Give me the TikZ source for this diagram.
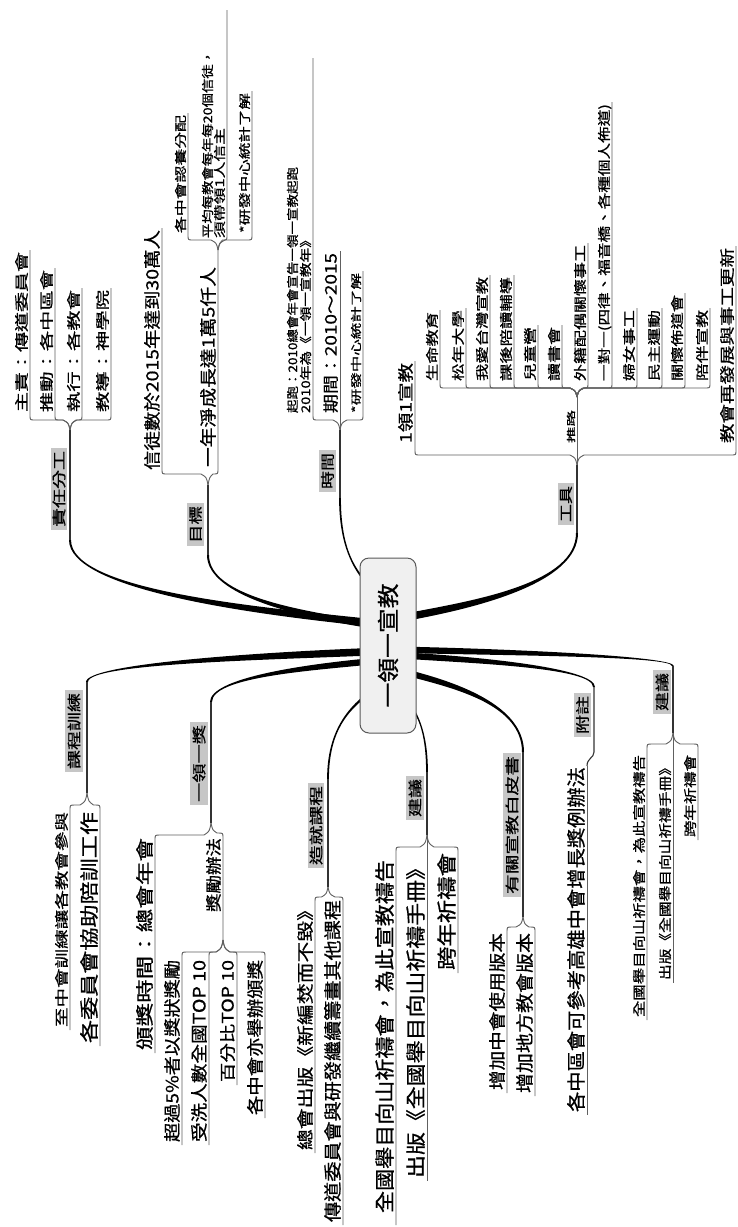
\documentclass[tikz,border=0pt]{standalone}
\usepackage{fontspec}
\usepackage{graphicx}
\setmainfont{Noto Sans CJK TC}[FakeBold=0.7]
\usetikzlibrary{calc}

\tikzset{
 txt/.style={rotate=90, anchor=base west, inner sep=0pt, outer sep=0pt},
 lab/.style={rotate=90, fill=gray!45, inner xsep=3pt, inner ysep=2pt, font=\fontsize{14}{14}\selectfont},
 br/.style={draw=gray!75!black, line width=0.9pt},
 lone/.style={draw=black!80, line width=1.1pt},
 hub/.style={rotate=90, draw=gray!70!black, fill=gray!12, rounded corners=9pt, line width=1pt, minimum width=175pt, minimum height=56pt, inner sep=0pt},
}

% text node: name, lineX, bottomY, topY, size, text
\newcommand\tx[6]{%
 \pgfmathsetmacro\tlen{#3-#4}%
 \node[txt] (#1) at ({#2-0.12*#5-1.5},#3) {\fontsize{#5}{#5}\selectfont\resizebox{\tlen pt}{\height}{#6}};%
}
% bracket: fx fy cx by yend
\newcommand\brk[5]{%
 \pgfmathsetmacro\bs{ifthenelse(#3>#1,1,-1)}%
 \pgfmathsetmacro\bv{ifthenelse(#4>#2,1,-1)}%
 \pgfmathsetmacro\bd{min(abs(#3-#1)/2,7)}%
 \pgfmathsetmacro\be{min(abs(#3-#1)/2,5)}%
 \draw[br] (#1,#2) .. controls ({#1+\bs*1.5},{#2+\bv*abs(#4-#2)*0.7}) .. ({#1+\bs*\bd},#4) -- ({#3-\bs*\be},#4) .. controls (#3,#4) .. (#3,{#4+\bv*\be}) -- (#3,#5);%
}
\newcommand\brs[3]{\draw[br] (#1,#2) -- (#1,#3);}
% tapered main branch: sx sy ex ey h0 h1
\newcommand\taper[6]{%
 \pgfmathsetmacro\ta{ifthenelse(#3>#1,1,-1)}%
 \pgfmathsetmacro\tb{ifthenelse(#4>#2,1,-1)}%
 \pgfmathsetmacro\cxa{#1+0.4*(#3-#1)}%
 \pgfmathsetmacro\cya{#2+0.15*(#4-#2)}%
 \pgfmathsetmacro\cyb{#4+0.6*(#2-#4)}%
 \fill[black] (#1,{#2+\ta*#5}) .. controls (\cxa,{\cya+\ta*#5}) and ({#3-\tb*#6},\cyb) .. ({#3-\tb*#6},#4)
   -- ({#3+\tb*#6},#4) .. controls ({#3+\tb*#6},\cyb) and (\cxa,{\cya-\ta*#5}) .. (#1,{#2-\ta*#5}) -- cycle;%
}

\begin{document}
\begin{tikzpicture}[x=1pt,y=-1pt]
\useasboundingbox (0,0) rectangle (737,1227);
\fill[white] (0,0) rectangle (737,1227);

% main tapered branches
\taper{364}{622}{70}{540}{3.8}{1}
\taper{364}{624}{208}{555}{3.2}{1}
\taper{364}{580}{340}{498}{1.6}{0.9}
\taper{412}{616}{577}{533}{3.8}{1}
\taper{364}{652}{87}{682}{3.8}{1}
\taper{364}{662}{211}{702}{3.2}{1}
\taper{364}{697}{328}{779}{1.6}{0.9}
\taper{412}{707}{427}{772}{1.6}{0.9}
\taper{412}{674}{523}{752}{3.2}{1}
\taper{412}{656}{594}{687}{3.2}{1}
\taper{412}{650}{673}{666}{3.2}{1}

% level-1 lines
\draw[lone] (70,540) -- (70,430);
\draw[lone] (208,555) -- (208,485);
\draw[lone] (340,498) -- (340,430);
\draw[lone] (577,533) -- (577,465);
\draw[lone] (87,682) -- (87,793);
\draw[lone] (211,702) -- (211,823);
\draw[lone] (328,779) -- (328,887);
\draw[lone] (427,772) -- (427,835);
\draw[lone] (523,752) -- (523,917);
\draw[lone] (673,666) -- (673,733);
\draw[lone] (594,687) -- (594,752) .. controls (594,758) and (587,758) .. (587,766);
\draw[br] (587,766) -- (587,1115);

% hub
\node[hub] (C) at (388,645.5) {\fontsize{22}{22}\selectfont\resizebox{124pt}{\height}{一領一宣教}};

% level-1 labels
\node[lab] (t1) at (59,489) {\resizebox{76pt}{\height}{責任分工}};
\node[lab] (t2) at (195.5,524.5) {\resizebox{37pt}{\height}{目標}};
\node[lab] (t3) at (327.5,471) {\resizebox{36pt}{\height}{時間}};
\node[lab] (t4) at (566,504) {\resizebox{36pt}{\height}{工具}};
\node[lab] (t5) at (74,731) {\resizebox{76pt}{\height}{課程訓練}};
\node[lab] (t6) at (199,763.5) {\resizebox{77pt}{\height}{一領一獎}};
\node[lab] (t7) at (316,825.5) {\resizebox{79pt}{\height}{造就課程}};
\node[lab] (t8) at (415,798) {\resizebox{38pt}{\height}{建議}};
\node[lab] (t9) at (512,825) {\resizebox{138pt}{\height}{有關宣教白皮書}};
\node[lab] (t10) at (582.5,715) {\resizebox{38pt}{\height}{附註}};
\node[lab] (t11) at (662,692) {\resizebox{38pt}{\height}{建議}};

% 責任分工
\brk{70}{430}{30}{420}{250}\brk{70}{430}{55}{420}{268}\brk{70}{430}{82}{420}{288}\brk{70}{430}{111}{420}{288}
\tx{a1}{30}{412}{252}{14}{主責：傳道委員會}
\tx{a2}{55}{412}{270}{14}{推動：各中區會}
\tx{a3}{82}{412}{290}{14}{執行：各教會}
\tx{a4}{111}{412}{290}{14}{教導：神學院}

% 目標
\brk{208}{485}{162}{474}{228}\brk{208}{485}{218}{474}{250}
\tx{b1}{162}{470}{230}{17}{信徒數於2015年達到30萬人}
\tx{b2}{218}{467}{267}{17}{一年淨成長達1萬5仟人}
\brk{218}{250}{188}{240}{113}\brk{218}{250}{227}{240}{10}\brk{218}{250}{252}{240}{91}
\tx{c1}{188}{233}{115}{12}{各中會認養分配}
\tx{c2a}{215}{238}{50}{12}{平均每教會每年每20個信徒，}
\tx{c2b}{227}{238}{128}{12}{須帶領1人信主}
\tx{c3}{252}{233}{93}{12}{*研發中心統計了解}

% 時間
\brk{340}{430}{313}{420}{58}\brs{340}{430}{251}\brk{340}{430}{363}{420}{271}
\tx{d1a}{300}{413}{167}{12}{起跑：2010總會年會宣告一領一宣教起跑}
\tx{d1b}{313}{413}{233}{12}{2010年為《一領一宣教年》}
\tx{d2}{340}{413}{253}{16}{期間：2010～2015}
\tx{d3}{363}{413}{273}{11}{*研發中心統計了解}

% 工具
\brk{577}{465}{415}{455}{361}\brs{577}{465}{397}\brk{577}{465}{736}{455}{246}
\tx{e1}{415}{443}{363}{16}{1領1宣教}
\tx{e2}{577}{443}{410}{9}{推路}
\tx{e3}{736}{443}{248}{15}{教會再發展與事工更新}

% 推路
\brk{577}{397}{440}{388}{310}\brk{577}{397}{466}{388}{308}\brk{577}{397}{490}{388}{275}
\brk{577}{397}{514}{388}{275}\brk{577}{397}{538}{388}{325}\brk{577}{397}{562}{388}{325}
\brk{577}{397}{588}{388}{243}\brk{577}{397}{612}{388}{102}\brk{577}{397}{637}{388}{308}
\brk{577}{397}{662}{388}{308}\brk{577}{397}{685}{388}{293}\brk{577}{397}{710}{388}{308}
\tx{f1}{440}{381}{312}{13}{生命教育}
\tx{f2}{466}{381}{310}{13}{松年大學}
\tx{f3}{490}{381}{277}{13}{我愛台灣宣教}
\tx{f4}{514}{381}{277}{13}{課後陪讀輔導}
\tx{f5}{538}{381}{327}{13}{兒童營}
\tx{f6}{562}{381}{327}{13}{讀書會}
\tx{f7}{588}{381}{245}{13}{外籍配偶關懷事工}
\tx{f8}{612}{381}{104}{13}{一對一(四律、福音橋、各種個人佈道)}
\tx{f9}{637}{381}{310}{13}{婦女事工}
\tx{f10}{662}{381}{310}{13}{民主運動}
\tx{f11}{685}{381}{295}{13}{關懷佈道會}
\tx{f12}{710}{381}{310}{13}{陪伴宣教}

% 課程訓練
\brk{87}{793}{70}{805}{1030}\brk{87}{793}{100}{805}{1046}
\tx{g1}{70}{1027}{812}{14}{至中會訓練讓各教會參與}
\tx{g2}{100}{1043}{812}{19}{各委員會協助陪訓工作}

% 一領一獎
\brk{211}{823}{155}{835}{1053}\brk{211}{823}{223}{833}{940}
\tx{h1}{155}{1050}{838}{18}{頒獎時間：總會年會}
\tx{h2}{223}{912}{838}{16}{獎勵辦法}
\brk{223}{940}{182}{952}{1145}\brk{223}{940}{209}{952}{1145}\brk{223}{940}{237}{952}{1085}\brk{223}{940}{265}{952}{1118}
\tx{i1}{182}{1142}{960}{17}{超過5\%者以獎狀獎勵}
\tx{i2}{209}{1142}{960}{17}{受洗人數全國TOP 10}
\tx{i3}{237}{1082}{960}{16}{百分比TOP 10}
\tx{i4}{265}{1115}{960}{17}{各中會亦舉辦頒獎}

% 造就課程
\brk{328}{887}{315}{897}{1153}\brk{328}{887}{343}{897}{1225}
\tx{j1}{315}{1150}{900}{17}{總會出版《新編焚而不毀》}
\tx{j2}{343}{1222}{900}{18}{傳道委員會與研發繼續籌畫其他課程}

% 建議 1
\brk{427}{835}{396}{847}{1225}\brs{427}{835}{1181}\brk{427}{835}{458}{847}{973}
\tx{k1}{396}{1213}{860}{20}{全國舉目向山祈禱會，為此宣教禱告}
\tx{k2}{427}{1178}{857}{20}{出版《全國舉目向山祈禱手冊》}
\tx{k3}{458}{970}{853}{20}{跨年祈禱會}

% 白皮書
\brk{523}{917}{507}{927}{1093}\brk{523}{917}{535}{927}{1096}
\tx{l1}{507}{1090}{933}{17}{增加中會使用版本}
\tx{l2}{535}{1093}{933}{18}{增加地方教會版本}

% 附註
\tx{m1}{587}{1112}{767}{19}{各中區會可參考高雄中會增長獎例辦法}

% 建議 2
\brk{673}{733}{647}{744}{1020}\brs{673}{733}{983}\brk{673}{733}{698}{744}{840}
\tx{n1}{647}{1017}{755}{13}{全國舉目向山祈禱會，為此宣教禱告}
\tx{n2}{673}{980}{760}{13}{出版《全國舉目向山祈禱手冊》}
\tx{n3}{698}{837}{755}{13}{跨年祈禱會}
\end{tikzpicture}
\end{document}
